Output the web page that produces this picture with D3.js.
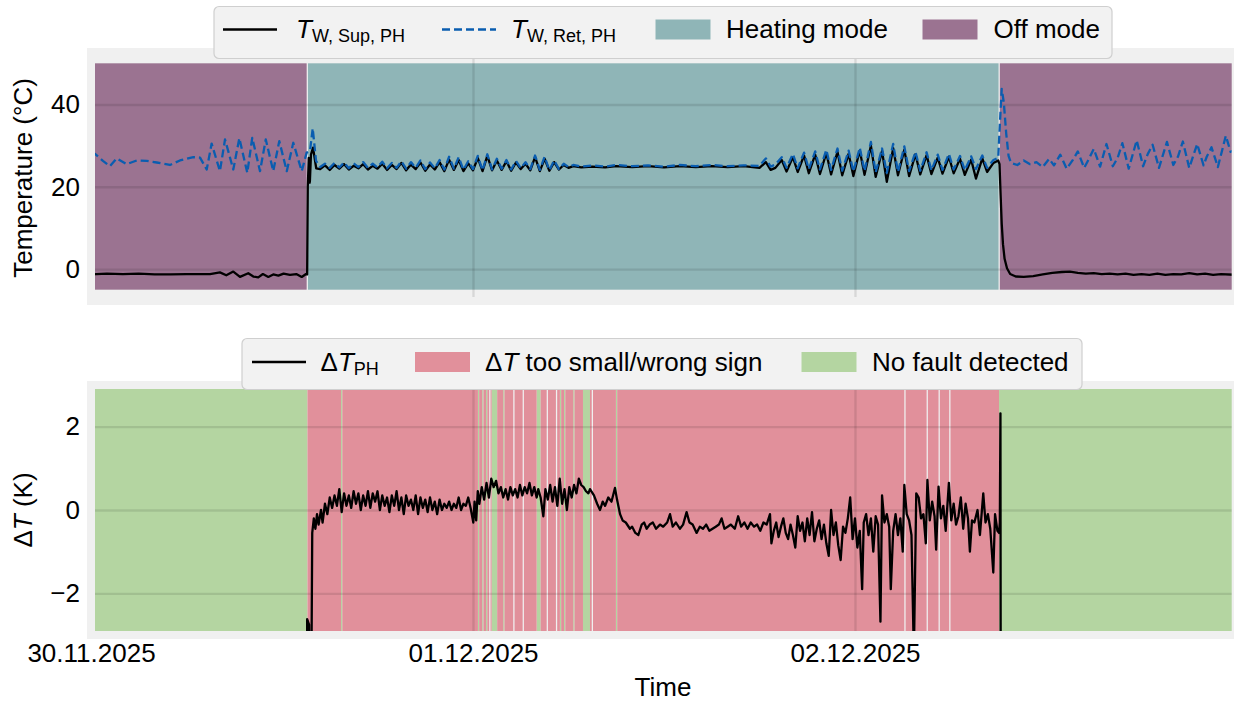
<!DOCTYPE html>
<html>
<head>
<meta charset="utf-8">
<script src="https://cdn.jsdelivr.net/npm/d3@7"></script>
<style>
  body { margin: 0; background: #fff; }
  svg { display: block; font-family: "Liberation Sans", Arial, sans-serif; }
</style>
</head>
<body>
<div id="box"></div>
<script>
'use strict';

// all times are hours after 30.11.2025 00:00
var supplyTemp = [
  [0,-1.3],[1,-1.1],[2,-1.2],[3,-1.1],[4,-1.3],[5,-1.3],[6,-1.2],[6.8,-1.2],[7.48,-1.2],[8.1,-0.8],
  [8.5,-1.5],[8.94,-0.6],[9.36,-1.9],[9.88,-1.0],[10.2,-1.8],[10.51,-2.0],[10.8,-1.2],[11.14,-1.9],
  [11.45,-1.3],[11.77,-1.6],[12.1,-1.1],[12.5,-1.4],[12.9,-1.2],[13.24,-1.9],[13.51,-1.2],[13.58,-1.3],
  [13.62,20.0],[13.68,27.0],[13.75,21.0],[13.82,27.8],[13.95,29.5],[14.15,24.5],
  [14.4,24.3],[14.7,25.2],[15.0,24.1],[15.3,25.3],[15.6,24.4],[15.9,25.5],[16.2,24.2],[16.5,25.1],
  [16.8,24.5],[17.1,25.5],[17.4,24.2],[17.7,25.1],[18.0,24.4],[18.3,25.6],[18.6,24.1],[18.9,25.3],
  [19.2,24.3],[19.5,25.8],[19.8,24.0],[20.1,25.4],[20.4,24.3],[20.7,25.9],[21.0,23.9],[21.3,25.4],
  [21.6,24.2],[21.9,26.0],[22.2,23.8],[22.5,26.6],[22.8,24.1],[23.1,26.5],[23.4,23.8],[23.7,25.7],
  [24.0,24.0],[24.3,27.0],[24.6,23.8],[24.9,27.5],[25.2,24.0],[25.5,26.4],[25.8,24.1],[26.1,26.2],
  [26.4,23.9],[26.7,25.9],[27.0,24.3],[27.3,25.6],[27.6,24.0],[27.9,27.2],[28.2,23.8],[28.5,26.8],
  [28.8,23.9],[29.1,26.0],[29.4,24.2],[29.7,25.3],[30.0,24.6],[30.3,25.0],[30.8,24.7],[31.5,24.9],
  [32.3,24.7],[33.0,25.0],[34.0,24.8],[35.0,25.0],[36.0,24.7],[37.0,25.0],[38.0,24.8],[39.0,25.0],
  [40.0,24.8],[41.0,25.0],[42.0,24.6],[42.4,26.0],[42.7,24.1],[43.0,24.6],[43.4,26.5],[43.7,23.7],
  [44.1,27.2],[44.4,23.6],[44.8,27.6],[45.1,23.3],[45.5,27.8],[45.8,23.1],[46.2,28.2],[46.5,23.0],
  [46.9,28.5],[47.2,22.8],[47.6,28.0],[47.9,22.6],[48.3,28.8],[48.6,22.9],[49.0,30.0],[49.3,22.4],
  [49.7,28.7],[50.0,21.2],[50.4,29.4],[50.7,22.8],[51.1,29.0],[51.4,22.6],[51.8,27.9],[52.1,23.0],
  [52.5,27.7],[52.8,23.1],[53.2,27.1],[53.5,23.2],[53.9,27.3],[54.2,23.3],[54.6,26.8],[54.9,22.9],
  [55.3,26.6],[55.6,22.0],[56.0,26.9],[56.3,23.6],[56.7,25.8],[57.0,26.4],[57.08,25.5],[57.15,18.0],
  [57.22,11.0],[57.3,6.0],[57.4,2.5],[57.55,0.2],[57.75,-1.2],[58.1,-1.8],[58.6,-1.9],[59.2,-1.7],
  [59.8,-1.3],[60.4,-0.9],[61.0,-0.7],[61.5,-0.6],[62.0,-0.9],[62.5,-1.1],[63.0,-1.0],[63.5,-1.2],
  [64.0,-1.1],[64.5,-1.3],[65.0,-1.1],[65.5,-1.4],[66.0,-1.2],[66.5,-1.4],[67.0,-1.1],[67.5,-1.4],
  [68.0,-1.2],[68.5,-1.3],[69.0,-1.0],[69.5,-1.3],[70.0,-1.1],[70.5,-1.4],[71.0,-1.2],[71.92,-1.4]
];

var returnTemp = [
  [0,28.2],[0.25,28.0],[0.75,26.3],[1.19,25.0],[1.61,26.9],[2.24,25.5],[2.87,26.4],[3.5,26.3],
  [4.13,25.9],[4.96,25.3],[5.59,26.4],[6.43,27.2],[6.85,27.1],[7.27,24.2],[7.58,30.5],[8.1,23.8],
  [8.42,31.5],[8.94,24.2],[9.32,31.8],[9.82,23.4],[10.13,31.9],[10.62,23.8],[10.98,31.5],[11.45,23.8],
  [11.83,31.1],[12.3,23.8],[12.71,30.7],[13.24,23.8],[13.55,28.3],[13.76,28.7],[13.93,34.2],[14.14,26.3],
  [14.4,24.8],[14.7,25.6],[15.0,24.6],[15.3,25.8],[15.6,24.7],[15.9,25.9],[16.2,24.5],[16.5,25.7],
  [16.8,24.8],[17.1,26.0],[17.4,24.6],[17.7,25.6],[18.0,24.7],[18.3,26.1],[18.6,24.5],[18.9,25.8],
  [19.2,24.6],[19.5,26.2],[19.8,24.4],[20.1,26.0],[20.4,24.6],[20.7,26.4],[21.0,24.3],[21.3,25.9],
  [21.6,24.5],[21.9,26.5],[22.2,24.2],[22.5,27.3],[22.8,24.4],[23.1,27.2],[23.4,24.1],[23.7,26.2],
  [24.0,24.3],[24.3,27.5],[24.6,24.0],[24.9,27.9],[25.2,24.2],[25.5,26.8],[25.8,24.4],[26.1,26.5],
  [26.4,24.2],[26.7,26.3],[27.0,24.5],[27.3,26.0],[27.6,24.3],[27.9,27.6],[28.2,24.1],[28.5,27.3],
  [28.8,24.0],[29.1,26.4],[29.4,24.3],[29.7,25.6],[30.0,24.8],[30.3,25.3],[30.8,24.9],[31.5,25.2],
  [32.3,24.9],[33.0,25.3],[34.0,25.0],[35.0,25.2],[36.0,24.9],[37.0,25.3],[38.0,25.0],[39.0,25.3],
  [40.0,25.0],[41.0,25.2],[42.0,25.1],[42.4,26.9],[42.7,24.9],[43.0,25.4],[43.4,27.2],[43.7,24.6],
  [44.1,28.0],[44.4,24.5],[44.8,28.3],[45.1,24.3],[45.5,28.6],[45.8,24.2],[46.2,29.0],[46.5,24.1],
  [46.9,29.3],[47.2,23.9],[47.6,28.8],[47.9,23.7],[48.3,29.5],[48.6,23.8],[49.0,30.9],[49.3,23.5],
  [49.7,29.3],[50.0,23.4],[50.4,30.4],[50.7,23.6],[51.1,29.8],[51.4,23.8],[51.8,28.5],[52.1,23.9],
  [52.5,28.4],[52.8,24.0],[53.2,27.8],[53.5,24.1],[53.9,28.0],[54.2,24.2],[54.6,27.5],[54.9,24.0],
  [55.3,27.4],[55.6,24.3],[56.0,27.6],[56.3,24.6],[56.7,26.5],[57.0,27.0],[57.1,35.0],[57.22,43.8],
  [57.35,40.5],[57.5,33.0],[57.65,27.5],[57.8,25.8],[58.2,25.3],[58.6,26.4],[59.0,25.5],[59.4,26.0],
  [59.8,24.8],[60.2,26.8],[60.5,25.2],[60.9,27.8],[61.3,24.4],[61.7,26.6],[62.0,28.6],[62.4,24.6],
  [62.7,26.8],[63.0,29.2],[63.4,24.9],[63.8,30.4],[64.2,25.0],[64.5,27.0],[64.8,30.6],[65.2,24.4],
  [65.7,31.3],[66.1,25.0],[66.4,28.0],[66.7,30.2],[67.1,24.6],[67.6,30.9],[68.0,25.3],[68.3,27.4],
  [68.6,31.0],[69.0,24.6],[69.5,30.4],[69.9,25.2],[70.1,27.3],[70.4,29.6],[70.8,24.8],[71.3,32.4],
  [71.6,28.5],[71.92,29.0]
];

var deltaT = [
  [0,-28.5],[4,-27.6],[8,-28.8],[13.5,-29.0],[13.58,-2.62],[13.7,-2.75],[13.74,-5.0],[13.83,-5.0],
  [13.9,-0.55],[14.0,-0.2],[14.1,-0.45],[14.2,-0.1],[14.3,-0.35],[14.45,0.0],[14.55,-0.3],[14.7,0.15],
  [14.85,-0.1],[15.0,0.3],[15.15,0.05],[15.3,0.35],[15.45,0.1],[15.6,0.5],[15.75,-0.05],[15.9,0.4],
  [16.05,0.1],[16.2,0.35],[16.35,0.05],[16.5,0.45],[16.65,0.15],[16.8,0.4],[16.95,0.0],[17.1,0.35],
  [17.25,0.1],[17.4,0.45],[17.55,0.05],[17.7,0.4],[17.85,0.2],[18.0,0.45],[18.15,0.0],[18.3,0.35],
  [18.45,0.1],[18.6,0.3],[18.75,-0.05],[18.9,0.35],[19.05,0.1],[19.2,0.45],[19.35,0.0],[19.5,0.3],
  [19.65,-0.1],[19.8,0.35],[19.95,0.1],[20.1,0.25],[20.25,0.0],[20.4,0.35],[20.55,-0.1],[20.7,0.3],
  [20.85,0.05],[21.0,0.25],[21.15,-0.05],[21.3,0.3],[21.45,0.0],[21.6,0.2],[21.75,-0.1],[21.9,0.25],
  [22.05,0.0],[22.2,0.15],[22.35,0.05],[22.5,0.2],[22.65,0.0],[22.8,0.15],[22.95,0.05],[23.1,0.3],
  [23.25,0.0],[23.4,0.15],[23.55,0.1],[23.7,0.3],[23.85,0.05],[24.02,-0.3],[24.1,0.2],[24.2,-0.25],
  [24.3,0.45],[24.4,0.15],[24.55,0.55],[24.7,0.25],[24.85,0.65],[25.0,0.3],[25.15,0.75],[25.3,0.55],
  [25.45,0.7],[25.6,0.4],[25.75,0.55],[25.9,0.3],[26.05,0.5],[26.2,0.25],[26.35,0.55],[26.5,0.35],
  [26.65,0.5],[26.8,0.3],[26.95,0.6],[27.1,0.35],[27.25,0.55],[27.4,0.4],[27.55,0.65],[27.7,0.35],
  [27.85,0.55],[28.0,0.3],[28.1,0.5],[28.25,0.3],[28.42,-0.15],[28.55,0.5],[28.7,0.25],[28.85,0.6],
  [29.0,0.2],[29.15,0.55],[29.3,0.1],[29.45,0.75],[29.6,0.15],[29.75,0.5],[29.9,0.0],[30.05,0.55],
  [30.2,0.3],[30.35,0.6],[30.5,0.4],[30.65,0.75],[30.8,0.6],[30.95,0.55],[31.1,0.45],[31.25,0.4],
  [31.35,0.5],[31.6,0.35],[31.8,0.15],[31.98,0.0],[32.15,0.2],[32.3,0.1],[32.5,0.3],[32.7,0.2],
  [32.92,0.53],[33.05,0.25],[33.24,-0.1],[33.4,-0.25],[33.6,-0.3],[33.86,-0.45],[34.0,-0.4],[34.2,-0.55],
  [34.39,-0.6],[34.6,-0.35],[34.75,-0.3],[34.91,-0.45],[35.1,-0.35],[35.3,-0.3],[35.5,-0.45],[35.75,-0.35],
  [35.95,-0.4],[36.2,-0.3],[36.38,-0.1],[36.55,-0.4],[36.75,-0.3],[37.0,-0.45],[37.2,-0.35],[37.42,-0.05],
  [37.6,-0.3],[37.8,-0.35],[38.05,-0.55],[38.25,-0.4],[38.45,-0.45],[38.65,-0.35],[38.85,-0.5],[39.05,-0.45],
  [39.25,-0.4],[39.45,-0.35],[39.62,-0.2],[39.8,-0.45],[40.0,-0.4],[40.2,-0.35],[40.45,-0.45],[40.66,-0.15],
  [40.85,-0.4],[41.05,-0.3],[41.25,-0.45],[41.45,-0.3],[41.65,-0.4],[41.85,-0.35],[42.05,-0.5],[42.25,-0.3],
  [42.45,-0.35],[42.66,-0.1],[42.75,-0.8],[42.9,-0.5],[43.05,-0.3],[43.2,-0.65],[43.35,-0.4],[43.5,-0.2],
  [43.65,-0.55],[43.8,-0.7],[43.95,-0.35],[44.1,-0.6],[44.25,-0.9],[44.4,-0.15],[44.55,-0.5],[44.7,-0.3],
  [44.85,-0.75],[45.0,-0.2],[45.15,-0.6],[45.3,-0.05],[45.45,-0.75],[45.6,-0.45],[45.75,-0.25],[45.9,-0.7],
  [46.05,-0.35],[46.2,-0.8],[46.35,-1.1],[46.5,0.0],[46.65,-0.6],[46.8,-0.3],[46.95,-0.85],[47.1,-1.2],
  [47.25,-0.4],[47.4,-0.55],[47.55,-0.2],[47.7,0.3],[47.85,-0.7],[48.0,-0.2],[48.15,-0.9],[48.3,-0.5],
  [48.45,-1.9],[48.55,-0.3],[48.7,-0.1],[48.85,-0.6],[49.0,-0.2],[49.15,-1.0],[49.3,-0.15],[49.45,-0.35],
  [49.6,-2.68],[49.7,0.35],[49.85,-0.3],[50.0,-0.1],[50.15,-0.4],[50.25,-1.9],[50.4,-0.5],[50.55,-0.1],
  [50.7,-0.6],[50.85,-0.2],[51.0,-1.0],[51.1,0.6],[51.25,-0.1],[51.4,-0.25],[51.55,-0.6],[51.7,-3.5],
  [51.85,0.4],[52.0,0.3],[52.15,-0.2],[52.3,-0.1],[52.45,-0.8],[52.55,0.72],[52.7,-0.25],[52.85,0.2],
  [53.0,-0.15],[53.1,-0.95],[53.25,0.56],[53.4,-0.2],[53.55,0.1],[53.7,-0.5],[53.9,0.65],[54.05,-0.25],
  [54.2,0.15],[54.35,-0.35],[54.5,-0.15],[54.65,0.3],[54.8,-0.45],[54.95,0.15],[55.1,-0.2],[55.22,-1.0],
  [55.35,-0.25],[55.5,-0.3],[55.7,0.0],[55.85,-0.6],[56.06,0.4],[56.2,-0.3],[56.35,-0.1],[56.5,-0.45],
  [56.69,-1.5],[56.8,-0.1],[56.95,-0.5],[57.05,-0.55],[57.1,-0.3],[57.14,2.32],[57.17,-10],[57.3,-22],
  [57.6,-27.5],[62,-28.0],[66,-30.0],[71.92,-29.0]
];

var offModeSpans = [[0, 13.55], [57.1, 71.92]];
var heatingSpans = [[13.63, 57.02]];
var faultSpans = [
  [13.6,15.71],[15.79,24.31],[24.39,24.58],[24.66,24.82],[24.9,25.02],[25.1,25.17],[25.52,25.9],
  [25.98,26.53],[26.61,27.12],[27.2,28.0],[28.25,28.63],[28.71,29.21],[29.29,29.46],[29.54,29.72],
  [29.8,30.3],[30.38,30.91],[31.35,31.46],[31.54,32.98],[33.06,51.1],[51.18,52.5],[52.58,53.25],
  [53.33,53.92],[54.0,57.05]
];
var noFaultSpans = [
  [0,13.6],[15.71,15.79],[24.31,24.39],[24.58,24.66],[24.82,24.9],[25.17,25.52],[25.9,25.98],
  [28.0,28.25],[29.46,29.54],[29.72,29.8],[30.3,30.38],[30.91,31.35],[32.98,33.06],[57.05,71.92]
];
var modeBand = [-5, 50];
var tempTicks = [0, 20, 40];
var deltaTicks = [-2, 0, 2];
var dayTicks = [0, 24, 48];

var colHeat = "#8fb5b7", colOff = "#9b7391", colFault = "#e1909b", colOk = "#b4d5a1";
var colRet = "#0a5db0";

var t0 = new Date(2025, 10, 30);
function at(h) { return new Date(t0.getTime() + h * 3600000); }

var width = 1234, height = 702;
var svg = d3.select("#box").append("svg")
  .attr("width", width).attr("height", height);

var x = d3.scaleTime().domain([at(0), at(71.92)]).range([91, 1235.7]);
var yTop = d3.scaleLinear().domain([-7.75, 52.75]).range([301, 52]);
var yBot = d3.scaleLinear().domain([-3, 3]).range([635, 385]);
var left = x.range()[0], right = x.range()[1];

function makePanel(id, y) {
  var top = y.range()[1], bot = y.range()[0];
  svg.append("clipPath").attr("id", id)
    .append("rect").attr("x", left).attr("y", top)
    .attr("width", right - left).attr("height", bot - top);
  svg.append("rect").attr("x", left).attr("y", top)
    .attr("width", right - left).attr("height", bot - top)
    .attr("fill", "#f0f0f0");
  var body = svg.append("g").attr("clip-path", "url(#" + id + ")");
  return body;
}

function drawSpans(body, spans, color, y0, y1) {
  body.append("g").selectAll("rect").data(spans).join("rect")
    .attr("x", function(d) { return x(at(d[0])); })
    .attr("width", function(d) { return x(at(d[1])) - x(at(d[0])); })
    .attr("y", y1).attr("height", y0 - y1)
    .attr("fill", color);
}

function drawGrid(body, y, ticks) {
  var top = y.range()[1], bot = y.range()[0];
  var gy = body.append("g").attr("transform", "translate(" + left + ",0)")
    .call(d3.axisLeft(y).tickValues(ticks).tickSize(-(right - left)).tickFormat(""));
  var gx = body.append("g").attr("transform", "translate(0," + bot + ")")
    .call(d3.axisBottom(x).tickValues(dayTicks.map(at)).tickSize(-(bot - top)).tickFormat(""));
  [gy, gx].forEach(function(g) {
    g.select(".domain").remove();
    g.selectAll("line").attr("stroke", "rgba(0,0,0,0.1)").attr("stroke-width", 2.4);
  });
}

function drawLine(body, data, y, color, dash) {
  var p = body.append("path").datum(data)
    .attr("fill", "none")
    .attr("stroke", color)
    .attr("stroke-width", 2.3)
    .attr("stroke-linejoin", "round")
    .attr("d", d3.line()
      .x(function(d) { return x(at(d[0])); })
      .y(function(d) { return y(d[1]); }));
  if (dash) p.attr("stroke-dasharray", dash);
}

function drawSpine(y) {
  var top = y.range()[1], bot = y.range()[0];
  svg.append("rect").attr("x", left).attr("y", top)
    .attr("width", right - left).attr("height", bot - top)
    .attr("fill", "none").attr("stroke", "#f0f0f0").attr("stroke-width", 8);
}

function yTicks(y, ticks) {
  var g = svg.append("g").attr("transform", "translate(" + left + ",0)")
    .call(d3.axisLeft(y).tickValues(ticks).tickFormat(d3.format("d"))
      .tickSize(0).tickPadding(11));
  g.select(".domain").remove();
  g.selectAll("text").attr("font-size", 26).attr("fill", "#000")
    .attr("font-family", "Liberation Sans, Arial, sans-serif");
}

// top panel: temperatures
var topBody = makePanel("clipTop", yTop);
drawSpans(topBody, offModeSpans, colOff, yTop(modeBand[0]), yTop(modeBand[1]));
drawSpans(topBody, heatingSpans, colHeat, yTop(modeBand[0]), yTop(modeBand[1]));
drawGrid(topBody, yTop, tempTicks);
drawLine(topBody, supplyTemp, yTop, "#000");
drawLine(topBody, returnTemp, yTop, colRet, "8,4");
drawSpine(yTop);
yTicks(yTop, tempTicks);

// bottom panel: delta T
var botBody = makePanel("clipBot", yBot);
drawSpans(botBody, noFaultSpans, colOk, yBot.range()[0], yBot.range()[1]);
drawSpans(botBody, faultSpans, colFault, yBot.range()[0], yBot.range()[1]);
drawGrid(botBody, yBot, deltaTicks);
drawLine(botBody, deltaT, yBot, "#000");
drawSpine(yBot);
yTicks(yBot, deltaTicks);

var gx = svg.append("g").attr("transform", "translate(0," + yBot.range()[0] + ")")
  .call(d3.axisBottom(x).tickValues(dayTicks.map(at))
    .tickFormat(d3.timeFormat("%d.%m.%Y")).tickSize(0).tickPadding(9));
gx.select(".domain").remove();
gx.selectAll("text").attr("font-size", 26).attr("fill", "#000")
  .attr("font-family", "Liberation Sans, Arial, sans-serif");

// axis labels
function richText(g, px, py, parts, anchor) {
  var t = g.append("text").attr("x", px).attr("y", py)
    .attr("font-size", 26).attr("fill", "#000")
    .style("white-space", "pre");
  if (anchor) t.attr("text-anchor", anchor);
  parts.forEach(function(p) {
    var s = t.append("tspan").text(p.t);
    if (p.it) s.attr("font-style", "italic");
    if (p.sub) s.attr("font-size", 18).attr("dy", 4);
  });
  return t;
}

var lab1 = svg.append("g").attr("transform", "translate(31.5,178) rotate(-90)");
richText(lab1, 0, 0, [{t: "Temperature (°C)"}], "middle");
var lab2 = svg.append("g").attr("transform", "translate(31.5,510) rotate(-90)");
richText(lab2, 0, 0, [{t: "Δ"}, {t: "T", it: true}, {t: " (K)"}], "middle");
richText(svg, 663, 695.5, [{t: "Time"}], "middle");

// legends
function legendFrame(x0, y0, w, h) {
  svg.append("rect").attr("x", x0).attr("y", y0).attr("width", w).attr("height", h)
    .attr("rx", 5).attr("fill", "#f2f2f2").attr("stroke", "#cfcfcf").attr("stroke-width", 1.2);
}
function legendLine(x0, x1, y0, color, dash) {
  var l = svg.append("line").attr("x1", x0).attr("x2", x1).attr("y1", y0).attr("y2", y0)
    .attr("stroke", color).attr("stroke-width", 2.3);
  if (dash) l.attr("stroke-dasharray", dash);
}
function legendPatch(x0, y0, color) {
  svg.append("rect").attr("x", x0).attr("y", y0).attr("width", 55).attr("height", 20)
    .attr("fill", color);
}

legendFrame(214, 6.5, 898, 52);
legendLine(223, 277, 29.5, "#000");
richText(svg, 296, 37.5, [{t: "T", it: true}, {t: "W, Sup, PH", sub: true}]);
legendLine(442, 496, 29.5, colRet, "8,4");
richText(svg, 511, 37.5, [{t: "T", it: true}, {t: "W, Ret, PH", sub: true}]);
legendPatch(655.5, 19.5, colHeat);
richText(svg, 726, 37.7, [{t: "Heating mode"}]);
legendPatch(922.5, 19.5, colOff);
richText(svg, 993.5, 37.7, [{t: "Off mode"}]);

legendFrame(242, 338.5, 840, 51);
legendLine(252, 306, 362, "#000");
richText(svg, 320.5, 370.5, [{t: "Δ"}, {t: "T", it: true}, {t: "PH", sub: true}]);
legendPatch(415, 352, colFault);
richText(svg, 485, 370.5, [{t: "Δ"}, {t: "T", it: true}, {t: " too small/wrong sign"}]);
legendPatch(801.5, 352, colOk);
richText(svg, 872, 370.5, [{t: "No fault detected"}]);
</script>
</body>
</html>
